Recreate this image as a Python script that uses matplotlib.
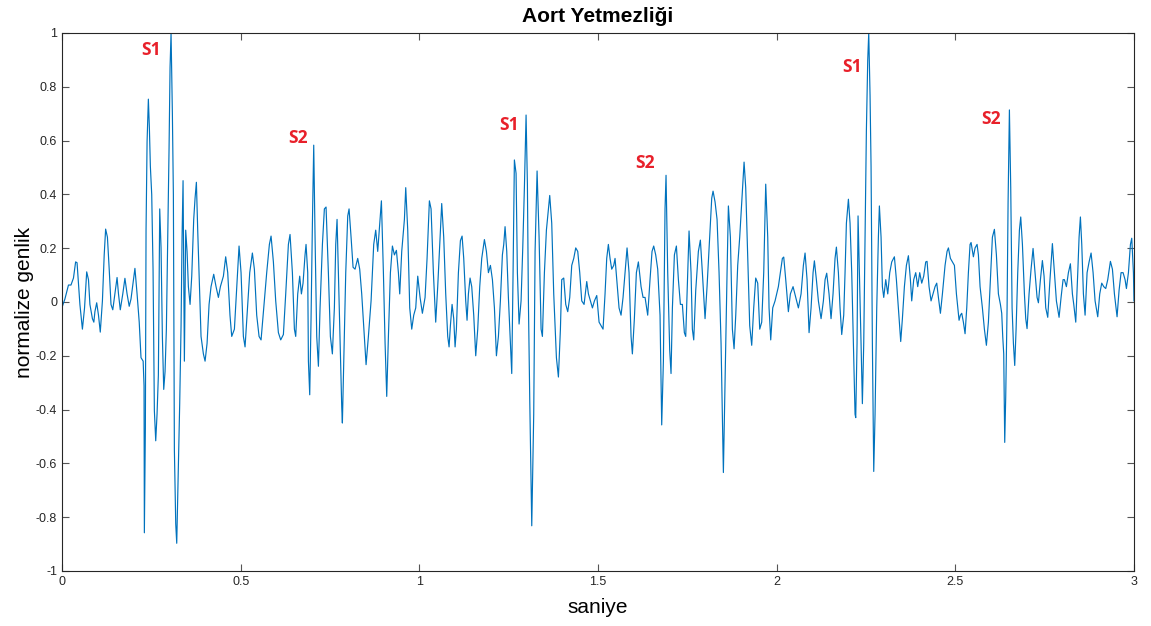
import numpy as np
import matplotlib
matplotlib.use("Agg")
import matplotlib.pyplot as plt
from matplotlib.ticker import FuncFormatter

# okunan tepe/çukur noktaları (saniye, normalize genlik), ~0.5 s'lik parçalar
t_part1 = [0.000, 0.008, 0.018, 0.025, 0.032, 0.038, 0.042, 0.050, 0.057, 0.063,
           0.069, 0.074, 0.078, 0.085, 0.089, 0.092, 0.097, 0.102, 0.107, 0.113,
           0.118, 0.122, 0.127, 0.132, 0.137, 0.142, 0.148, 0.154, 0.158, 0.163,
           0.170, 0.176, 0.182, 0.188, 0.193, 0.200, 0.204, 0.210, 0.216, 0.221,
           0.227, 0.2295, 0.2304, 0.2332, 0.2351, 0.238, 0.2416, 0.2444, 0.2472, 0.251,
           0.2547, 0.2584, 0.2622, 0.2659, 0.2696, 0.2734, 0.2771, 0.2808, 0.2846, 0.2883,
           0.292, 0.2958, 0.2995, 0.3023, 0.3051, 0.3088, 0.3116, 0.3144, 0.3182, 0.321,
           0.3256, 0.3293, 0.3331, 0.3359, 0.3387, 0.3424, 0.3461, 0.3499, 0.3536, 0.3583,
           0.363, 0.3685, 0.3723, 0.376, 0.3797, 0.3835, 0.389, 0.3956, 0.4003, 0.4059,
           0.4115, 0.417, 0.4245, 0.431, 0.4376, 0.4432, 0.4516, 0.458, 0.4637, 0.470,
           0.4749, 0.4824, 0.4889, 0.4954]
v_part1 = [-0.02, 0.011, 0.063, 0.063, 0.089, 0.149, 0.146, -0.009, -0.101, -0.022,
           0.112, 0.083, -0.009, -0.062, -0.075, -0.036, -0.003, -0.049, -0.112, 0.004,
           0.175, 0.271, 0.241, 0.122, -0.009, -0.029, 0.030, 0.091, 0.030, -0.029,
           0.030, 0.088, 0.030, -0.016, 0.011, 0.083, 0.125, 0.030, -0.075, -0.207,
           -0.220, -0.312, -0.858, -0.470, 0.267, 0.596, 0.754, 0.649, 0.504, 0.399,
           0.122, -0.404, -0.516, -0.417, -0.272, 0.346, 0.201, -0.128, -0.325, -0.259,
           -0.101, 0.241, 0.570, 0.872, 1.0, 0.701, 0.399, -0.549, -0.825, -0.897,
           -0.614, -0.378, -0.088, 0.241, 0.451, -0.220, 0.267, 0.188, 0.057, -0.009,
           0.096, 0.307, 0.386, 0.445, 0.267, 0.109, -0.128, -0.193, -0.220, -0.154,
           -0.009, 0.057, 0.103, 0.057, 0.017, 0.057, 0.096, 0.168, 0.109, -0.049,
           -0.128, -0.101, 0.057, 0.208]

t_part2 = [0.501, 0.5075, 0.5122, 0.5178, 0.5253, 0.5327, 0.5383, 0.5448, 0.5514, 0.557,
           0.5644, 0.5728, 0.5803, 0.585, 0.5915, 0.598, 0.6055, 0.612, 0.6195, 0.626,
           0.6335, 0.6381, 0.6447, 0.6503, 0.654, 0.6596, 0.6652, 0.6699, 0.6745, 0.6801,
           0.6829, 0.6876, 0.6895, 0.6932, 0.6969, 0.7007, 0.7044, 0.7081, 0.7128, 0.7175,
           0.7221, 0.7287, 0.7342, 0.7389, 0.7454, 0.751, 0.7566, 0.7622, 0.766, 0.7697,
           0.7734, 0.7781, 0.7828, 0.7846, 0.7884, 0.794, 0.7996, 0.8033, 0.8089, 0.8145,
           0.8201, 0.8275, 0.8331, 0.8387, 0.8462, 0.8509, 0.8574, 0.8649, 0.8723, 0.8779,
           0.8835, 0.8891, 0.8938, 0.8994, 0.9041, 0.9087, 0.9134, 0.919, 0.9246, 0.9302,
           0.9358, 0.9414, 0.9451, 0.9507, 0.9582, 0.9619, 0.9675, 0.9731, 0.9787, 0.9843,
           0.9899, 0.9955]
v_part2 = [0.109, -0.128, -0.167, -0.049, 0.109, 0.182, 0.122, -0.049, -0.128, -0.141,
           -0.022, 0.109, 0.214, 0.245, 0.149, 0.004, -0.114, -0.141, -0.121, 0.030,
           0.214, 0.251, 0.109, -0.101, -0.128, 0.030, 0.096, 0.030, 0.070, 0.175,
           0.214, 0.109, -0.220, -0.345, -0.062, 0.293, 0.583, 0.241, -0.128, -0.239,
           -0.022, 0.214, 0.346, 0.353, 0.109, -0.128, -0.193, -0.022, 0.214, 0.307,
           0.109, -0.154, -0.391, -0.450, -0.220, 0.109, 0.320, 0.346, 0.241, 0.129,
           0.122, 0.162, 0.122, 0.030, -0.128, -0.233, -0.128, 0.004, 0.214, 0.267,
           0.188, 0.293, 0.376, 0.109, -0.154, -0.351, -0.128, 0.109, 0.208, 0.175,
           0.192, 0.109, 0.030, 0.188, 0.307, 0.425, 0.267, -0.022, -0.101, -0.049,
           -0.022, 0.096]

t_part3 = [1.002, 1.0085, 1.016, 1.0216, 1.0281, 1.0328, 1.0393, 1.0458, 1.0514, 1.058,
           1.0626, 1.0682, 1.0738, 1.0794, 1.0832, 1.0869, 1.0916, 1.0962, 1.100, 1.1037,
           1.1093, 1.1149, 1.1196, 1.1242, 1.1298, 1.1335, 1.1373, 1.1419, 1.1466, 1.1522,
           1.1578, 1.1634, 1.169, 1.1746, 1.1821, 1.1877, 1.1933, 1.1989, 1.2045, 1.2101,
           1.2157, 1.2213, 1.2268, 1.2324, 1.2362, 1.2399, 1.2446, 1.2492, 1.2539, 1.2586,
           1.2623, 1.266, 1.2707, 1.2744, 1.2791, 1.2847, 1.2894, 1.294, 1.2987, 1.3024,
           1.3052, 1.309, 1.3146, 1.3201, 1.3239, 1.3295, 1.3351, 1.3407, 1.3444, 1.350,
           1.3556, 1.3612, 1.3649, 1.3705, 1.3761, 1.3836, 1.3892, 1.3948, 1.3985, 1.4041,
           1.4097, 1.4153, 1.4209, 1.4265, 1.4321, 1.4377, 1.4433, 1.4489, 1.4545, 1.461,
           1.4685, 1.4732, 1.4788, 1.4844, 1.490, 1.4965, 1.503]
v_part3 = [0.017, -0.042, 0.017, 0.162, 0.376, 0.346, 0.109, -0.075, 0.057, 0.241,
           0.366, 0.241, 0.030, -0.128, -0.167, -0.088, -0.009, -0.062, -0.167, -0.101,
           0.109, 0.228, 0.245, 0.162, 0.004, -0.068, 0.030, 0.089, 0.057, -0.049,
           -0.200, -0.101, 0.057, 0.162, 0.232, 0.188, 0.109, 0.136, 0.083, -0.022,
           -0.200, -0.128, 0.004, 0.175, 0.214, 0.280, 0.188, 0.017, -0.128, -0.266,
           0.109, 0.528, 0.478, 0.109, -0.082, 0.004, 0.201, 0.425, 0.695, 0.438,
           0.004, -0.364, -0.832, -0.417, 0.188, 0.487, 0.241, -0.101, -0.128, 0.109,
           0.267, 0.346, 0.396, 0.293, 0.030, -0.207, -0.279, -0.101, 0.083, 0.089,
           -0.009, -0.036, 0.017, 0.136, 0.162, 0.201, 0.188, 0.109, 0.004, -0.009,
           0.076, 0.030, 0.004, -0.022, 0.004, 0.024, -0.075]

t_part4 = [1.5085, 1.5141, 1.5197, 1.5244, 1.529, 1.5337, 1.5384, 1.544, 1.5477, 1.5524,
           1.5589, 1.5645, 1.5701, 1.5757, 1.5813, 1.5869, 1.5925, 1.5962, 1.6018, 1.6074,
           1.613, 1.6205, 1.6261, 1.6317, 1.6391, 1.6456, 1.6512, 1.6559, 1.6615, 1.6671,
           1.6736, 1.6783, 1.683, 1.6876, 1.6904, 1.6951, 1.7007, 1.7044, 1.7082, 1.7138,
           1.7194, 1.725, 1.7306, 1.7361, 1.7417, 1.7455, 1.7511, 1.7548, 1.7604, 1.7641,
           1.7679, 1.7735, 1.7809, 1.7865, 1.7921, 1.7996, 1.8052, 1.8127, 1.8183, 1.822,
           1.8276, 1.8332, 1.8388, 1.8444, 1.8481, 1.8509, 1.8556, 1.8612, 1.8649, 1.8705,
           1.8761, 1.8808, 1.8855, 1.891, 1.8966, 1.9022, 1.9088, 1.9134, 1.919, 1.9246,
           1.9302, 1.9358, 1.9414, 1.947, 1.9526, 1.9582, 1.9638, 1.9694, 1.975, 1.9787,
           1.9834, 1.989, 1.9955, 2.0048]
v_part4 = [-0.088, -0.101, 0.030, 0.162, 0.214, 0.162, 0.122, 0.136, 0.162, 0.083,
           -0.022, -0.049, 0.017, 0.109, 0.201, 0.109, -0.128, -0.193, -0.062, 0.109,
           0.149, 0.057, 0.017, 0.017, -0.049, 0.083, 0.188, 0.208, 0.175, 0.122,
           -0.049, -0.457, -0.220, 0.346, 0.471, 0.109, -0.180, -0.266, -0.022, 0.175,
           0.208, 0.083, -0.009, -0.009, -0.114, -0.128, 0.109, 0.264, 0.109, -0.101,
           -0.141, 0.043, 0.188, 0.230, 0.109, -0.062, 0.057, 0.241, 0.386, 0.412,
           0.372, 0.307, 0.109, -0.154, -0.417, -0.634, -0.286, 0.109, 0.357, 0.241,
           -0.101, -0.174, -0.049, 0.136, 0.241, 0.372, 0.520, 0.425, 0.175, -0.088,
           -0.161, -0.022, 0.089, 0.070, -0.101, -0.075, 0.109, 0.438, 0.241, -0.022,
           -0.141, -0.022, 0.004, 0.057]

t_part5 = [2.0104, 2.016, 2.0198, 2.0254, 2.0328, 2.0384, 2.0459, 2.0533, 2.0608, 2.0683,
           2.0748, 2.0795, 2.0851, 2.0907, 2.0963, 2.1019, 2.1056, 2.1112, 2.1168, 2.1243,
           2.1308, 2.1355, 2.1401, 2.1466, 2.1522, 2.1578, 2.1634, 2.1672, 2.1728, 2.1774,
           2.1821, 2.1877, 2.1914, 2.1952, 2.2008, 2.2054, 2.2101, 2.2148, 2.2194, 2.2213,
           2.225, 2.2278, 2.2316, 2.2362, 2.2399, 2.2437, 2.2474, 2.2511, 2.2549, 2.2577,
           2.2614, 2.2642, 2.2679, 2.2717, 2.2754, 2.2801, 2.2847, 2.2875, 2.2922, 2.2959,
           2.2997, 2.3053, 2.3109, 2.3165, 2.3221, 2.3295, 2.3351, 2.3407, 2.3472, 2.3519,
           2.3575, 2.3631, 2.3687, 2.3743, 2.378, 2.3836, 2.3892, 2.3948, 2.4004, 2.406,
           2.4116, 2.4172, 2.4209, 2.4265, 2.4321, 2.4377, 2.4433, 2.448, 2.4527, 2.4583,
           2.4639, 2.4713, 2.4769, 2.4807, 2.4863, 2.4919, 2.4975, 2.5031, 2.5105]
v_part5 = [0.109, 0.162, 0.167, 0.083, -0.036, 0.030, 0.057, 0.017, -0.022, 0.030,
           0.136, 0.182, 0.083, -0.114, -0.022, 0.109, 0.153, 0.083, 0.004, -0.062,
           0.004, 0.083, 0.107, 0.030, -0.062, 0.030, 0.162, 0.204, 0.109, -0.022,
           -0.121, -0.049, 0.109, 0.293, 0.382, 0.293, 0.109, -0.154, -0.417, -0.430,
           -0.154, 0.320, 0.109, -0.154, -0.378, -0.154, 0.241, 0.636, 0.899, 1.0,
           0.767, 0.504, -0.154, -0.630, -0.417, -0.022, 0.241, 0.357, 0.241, 0.057,
           0.017, 0.083, 0.030, 0.109, 0.149, 0.168, 0.083, -0.022, -0.147, -0.062,
           0.057, 0.136, 0.172, 0.083, 0.004, 0.083, 0.109, 0.057, 0.109, 0.070,
           0.096, 0.149, 0.151, 0.057, 0.004, 0.030, 0.057, 0.070, 0.017, -0.042,
           0.030, 0.136, 0.188, 0.201, 0.162, 0.149, 0.136, 0.030, -0.068]

t_part6 = [2.5142, 2.518, 2.5226, 2.5273, 2.532, 2.5366, 2.5413, 2.5441, 2.5506, 2.5553,
           2.5609, 2.5646, 2.5693, 2.5758, 2.5814, 2.587, 2.5926, 2.5982, 2.6038, 2.6094,
           2.615, 2.6206, 2.6262, 2.6299, 2.6327, 2.6355, 2.6383, 2.6411, 2.6449, 2.6477,
           2.6514, 2.6551, 2.6589, 2.6626, 2.6663, 2.6701, 2.6747, 2.6794, 2.6831, 2.6878,
           2.6934, 2.6971, 2.7008, 2.7064, 2.712, 2.7176, 2.7232, 2.7288, 2.7326, 2.7382,
           2.7437, 2.7484, 2.7531, 2.7587, 2.7643, 2.7717, 2.7773, 2.7829, 2.7904, 2.796,
           2.8016, 2.8053, 2.8109, 2.8165, 2.8221, 2.8277, 2.8315, 2.8371, 2.8427, 2.8464,
           2.8501, 2.8539, 2.8585, 2.8632, 2.8688, 2.8744, 2.880, 2.8856, 2.8912, 2.8986,
           2.9042, 2.9098, 2.9154, 2.921, 2.9266, 2.9341, 2.9397, 2.9453, 2.9527, 2.9583,
           2.9639, 2.9695, 2.9751, 2.9789, 2.9845, 2.9901, 2.9938, 2.9985, 3.0]
v_part6 = [-0.049, -0.042, -0.075, -0.118, -0.022, 0.109, 0.214, 0.221, 0.168, 0.201,
           0.214, 0.175, 0.057, -0.022, -0.101, -0.161, -0.075, 0.083, 0.241, 0.270,
           0.175, 0.030, -0.009, -0.042, -0.128, -0.193, -0.522, -0.351, -0.022, 0.372,
           0.714, 0.425, -0.022, -0.154, -0.236, -0.101, 0.109, 0.267, 0.316, 0.214,
           0.030, -0.062, -0.099, 0.030, 0.122, 0.199, 0.109, 0.017, -0.003, 0.083,
           0.154, 0.096, -0.022, -0.057, 0.070, 0.217, 0.109, 0.004, -0.057, 0.017,
           0.083, 0.083, 0.057, 0.109, 0.142, 0.030, -0.009, -0.075, 0.109, 0.241,
           0.316, 0.214, 0.030, -0.049, 0.109, 0.149, 0.182, 0.109, 0.004, -0.055,
           0.030, 0.070, 0.057, 0.050, 0.083, 0.151, 0.122, 0.030, -0.055, 0.043,
           0.109, 0.109, 0.083, 0.050, 0.109, 0.214, 0.237, 0.109, 0.004]

# kalp sesi etiketleri
peak_labels = ["S1", "S2", "S1", "S2", "S1", "S2"]
peak_t = [0.249, 0.660, 1.251, 1.632, 2.211, 2.600]
peak_v = [0.937, 0.610, 0.658, 0.517, 0.874, 0.680]

t = np.concatenate([t_part1, t_part2, t_part3, t_part4, t_part5, t_part6])
v = np.concatenate([v_part1, v_part2, v_part3, v_part4, v_part5, v_part6])

plt.rcParams['font.family'] = ['Liberation Sans', 'DejaVu Sans']


def tick_fmt(val, pos):
    # MATLAB gibi: 0.8, -0.2, 0 (eksi sıfır yok)
    val = round(val, 1) + 0.0
    return f"{val:g}"


fig = plt.figure(figsize=(11.51, 6.26), dpi=100)
ax = fig.add_axes([0.0539, 0.0879, 0.9313, 0.8594])

ax.plot(t, v, color='#0072BD', linewidth=0.85)

for lab, x, y in zip(peak_labels, peak_t, peak_v):
    ax.text(x, y, lab, color='#E8202A', fontsize=12.5, fontweight='bold',
            ha='center', va='center', family=['Open Sans', 'DejaVu Sans'])

ax.set_xlim(0, 3)
ax.set_ylim(-1, 1)
ax.set_xticks(np.arange(0, 3.01, 0.5))
ax.set_yticks(np.arange(-1, 1.01, 0.2))
ax.xaxis.set_major_formatter(FuncFormatter(tick_fmt))
ax.yaxis.set_major_formatter(FuncFormatter(tick_fmt))
ax.tick_params(direction='in', top=True, right=True, length=5, width=0.8,
               color='#555555', labelsize=9, labelcolor='#262626')
for sp in ax.spines.values():
    sp.set_color('#262626')
    sp.set_linewidth(0.8)

ax.set_title("Aort Yetmezliği", fontsize=15, fontweight='bold', pad=8)
ax.set_xlabel("saniye", fontsize=15, labelpad=7)
ax.set_ylabel("normalize genlik", fontsize=15, labelpad=1)

fig.savefig("out.png", dpi=100)
plt.close(fig)
